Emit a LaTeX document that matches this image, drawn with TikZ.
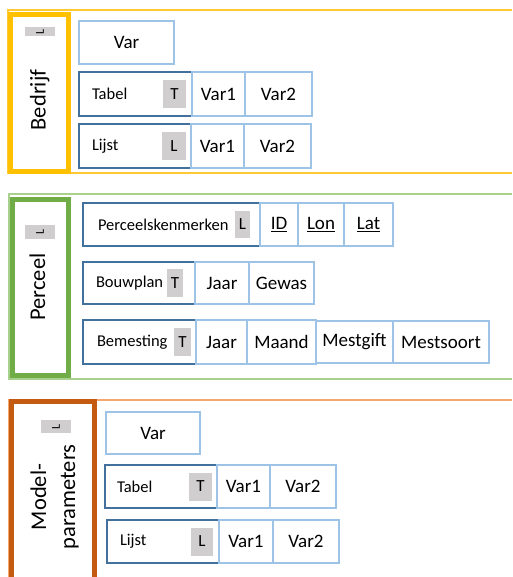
\documentclass[tikz,border=0pt]{standalone}
\usepackage{fontspec}
\setmainfont{Carlito}
\usetikzlibrary{positioning}
\definecolor{geel}{HTML}{FFC000}
\definecolor{geellicht}{HTML}{FFC933}
\definecolor{groen}{HTML}{70AD47}
\definecolor{groenlicht}{HTML}{A9D18E}
\definecolor{bruin}{HTML}{C55A11}
\definecolor{oranjelicht}{HTML}{F4A86E}
\definecolor{lichtblauw}{HTML}{9DC3E6}
\definecolor{donkerblauw}{HTML}{41719C}
\definecolor{badgegrijs}{HTML}{D0CECE}
\begin{document}
\begin{tikzpicture}[x=1pt,y=-1pt,
  every node/.style = {outer sep=0pt,inner sep=0pt},
  sectie/.style = {draw=#1,line width=2pt},
  titel/.style = {draw=#1,line width=5pt,fill=white,anchor=north west},
  titeltekst/.style = {rotate=90,anchor=base,font=\fontsize{22.5}{26}\selectfont},
  minibadge/.style = {rotate=90,fill=badgegrijs,minimum width=9pt,
    minimum height=30pt,font=\fontsize{12}{13}\selectfont},
  veld/.style = {draw=lichtblauw,line width=1.2pt,fill=white,
    font=\fontsize{19}{21}\selectfont},
  sleutel/.style = {draw=donkerblauw,line width=1.4pt,fill=white,anchor=north west},
  naam/.style = {anchor=west,font=\fontsize{16.5}{18}\selectfont},
  badge/.style = {fill=badgegrijs,anchor=east,minimum height=28pt,
    font=\fontsize{17}{19}\selectfont}]
\useasboundingbox (0,0) rectangle (512,577);
% Bedrijf
\draw[sectie=geellicht] (512,10) -| (8,173) -- (512,173);
\node[titel=geel,minimum width=58pt,minimum height=157pt] (bedrijf) at (10.5,14.5) {};
\node[titeltekst] (bedrijfNaam) at (45.5,100) {Bedrijf};
\node[minibadge] (bedrijfL) at (40,31.5) {L};
\node[veld,minimum width=95pt,minimum height=43pt,anchor=north west] (bVar) at (79,21) {Var};
\node[sleutel,minimum width=113pt,minimum height=44pt] (bTabel) at (79,72) {};
\node[veld,minimum width=53pt,minimum height=44pt,right=0pt of bTabel] (bTabelA) {Var1};
\node[veld,minimum width=67pt,minimum height=44pt,right=0pt of bTabelA] (bTabelB) {Var2};
\node[naam] (bTabelNaam) at ([xshift=13pt]bTabel.west) {Tabel};
\node[badge,minimum width=23pt] (bTabelT) at ([xshift=-6pt]bTabel.east) {T};
\node[sleutel,minimum width=112pt,minimum height=44pt] (bLijst) at (79,124) {};
\node[veld,minimum width=53pt,minimum height=44pt,right=0pt of bLijst] (bLijstA) {Var1};
\node[veld,minimum width=67pt,minimum height=44pt,right=0pt of bLijstA] (bLijstB) {Var2};
\node[naam] (bLijstNaam) at ([xshift=13pt]bLijst.west) {Lijst};
\node[badge,minimum width=24pt] (bLijstL) at ([xshift=-5pt]bLijst.east) {L};
% Perceel
\draw[sectie=groenlicht] (512,194) -| (9,379) -- (512,379);
\node[titel=groen,minimum width=56pt,minimum height=176pt] (perceel) at (12.5,199.5) {};
\node[titeltekst] (perceelNaam) at (45,287) {Perceel};
\node[minibadge,minimum width=14pt] (perceelL) at (40,232) {L};
\node[sleutel,minimum width=177pt,minimum height=43pt] (pKenm) at (83,203) {};
\node[veld,minimum width=38pt,minimum height=43pt,right=0pt of pKenm] (pKenmID) {\underline{ID}};
\node[veld,minimum width=46pt,minimum height=43pt,right=0pt of pKenmID] (pKenmLon) {\underline{Lon}};
\node[veld,minimum width=49pt,minimum height=43pt,right=0pt of pKenmLon] (pKenmLat) {\underline{Lat}};
\node[naam] (pKenmNaam) at ([xshift=15pt]pKenm.west) {Perceelskenmerken};
\node[badge,minimum width=15pt,minimum height=27pt] (pKenmL) at ([xshift=-10pt]pKenm.east) {L};
\node[sleutel,minimum width=112pt,minimum height=42pt] (pBouw) at (83,262) {};
\node[veld,minimum width=54pt,minimum height=42pt,right=0pt of pBouw] (pBouwJaar) {Jaar};
\node[veld,minimum width=65pt,minimum height=42pt,right=0pt of pBouwJaar] (pBouwGewas) {Gewas};
\node[naam] (pBouwNaam) at ([xshift=13pt]pBouw.west) {Bouwplan};
\node[badge,minimum width=16pt] (pBouwT) at ([xshift=-12pt]pBouw.east) {T};
\node[sleutel,minimum width=113pt,minimum height=44pt] (pBem) at (83,320) {};
\node[veld,minimum width=51pt,minimum height=44pt,right=0pt of pBem] (pBemJaar) {Jaar};
\node[veld,minimum width=69pt,minimum height=44pt,right=0pt of pBemJaar] (pBemMaand) {Maand};
\node[veld,minimum width=77pt,minimum height=42pt,right=0pt of pBemMaand] (pBemGift) {Mestgift};
\node[veld,minimum width=96pt,minimum height=42pt,right=0pt of pBemGift] (pBemSoort) {Mestsoort};
\node[naam] (pBemNaam) at ([xshift=14pt]pBem.west) {Bemesting};
\node[badge,minimum width=17pt] (pBemT) at ([xshift=-5pt]pBem.east) {T};
% Modelparameters
\draw[sectie=oranjelicht] (512,400) -| (9,585);
\node[titel=bruin,minimum width=83.5pt,minimum height=185pt] (model) at (11,401.5) {};
\node[titeltekst] (modelNaamA) at (46,497) {Model-};
\node[titeltekst] (modelNaamB) at (75,497) {parameters};
\node[minibadge,minimum width=13pt] (modelL) at (56,426.5) {L};
\node[veld,minimum width=94pt,minimum height=42pt,anchor=north west] (mVar) at (106,412) {Var};
\node[sleutel,minimum width=112pt,minimum height=43pt] (mTabel) at (105,465) {};
\node[veld,minimum width=53pt,minimum height=43pt,right=0pt of mTabel] (mTabelA) {Var1};
\node[veld,minimum width=66pt,minimum height=43pt,right=0pt of mTabelA] (mTabelB) {Var2};
\node[naam] (mTabelNaam) at ([xshift=12pt]mTabel.west) {Tabel};
\node[badge,minimum width=23pt] (mTabelT) at ([xshift=-5pt]mTabel.east) {T};
\node[sleutel,minimum width=112pt,minimum height=43pt] (mLijst) at (107,520) {};
\node[veld,minimum width=54pt,minimum height=43pt,right=0pt of mLijst] (mLijstA) {Var1};
\node[veld,minimum width=66pt,minimum height=43pt,right=0pt of mLijstA] (mLijstB) {Var2};
\node[naam] (mLijstNaam) at ([xshift=13pt]mLijst.west) {Lijst};
\node[badge,minimum width=22pt] (mLijstL) at ([xshift=-6pt]mLijst.east) {L};
\end{tikzpicture}
\end{document}
